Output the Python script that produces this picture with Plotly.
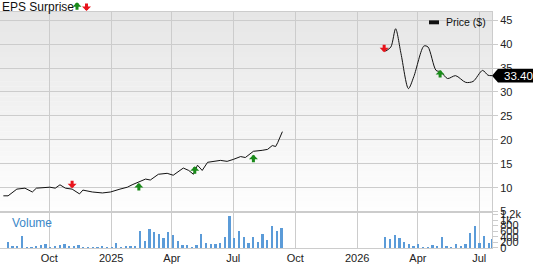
import plotly.graph_objects as go
import pandas as pd

# ---------------- data ----------------
price1_dates = ["2024-07-25","2024-08-01","2024-08-14","2024-08-26","2024-09-06","2024-09-12",
                "2024-10-02","2024-10-10","2024-10-17","2024-10-25","2024-11-04","2024-11-15",
                "2024-11-20","2024-12-04","2024-12-19","2024-12-31","2025-01-14","2025-01-25",
                "2025-02-01","2025-02-10","2025-02-21","2025-02-28","2025-03-12","2025-03-25",
                "2025-04-03","2025-04-18","2025-04-26","2025-05-03","2025-05-09","2025-05-16",
                "2025-05-24","2025-06-12","2025-06-22","2025-07-01","2025-07-12","2025-07-19",
                "2025-07-24","2025-07-31","2025-08-13","2025-08-21","2025-08-28","2025-09-02",
                "2025-09-05","2025-09-12"]
price1 = [8.3,8.3,9.7,9.9,9.1,9.9,10.1,9.9,10.6,9.9,9.7,8.7,9.5,9.1,8.9,9.1,9.7,10.1,
          10.6,11.2,11.8,11.6,12.8,13.0,12.6,14.1,13.6,12.8,14.7,13.6,15.3,15.7,15.5,15.9,
          16.5,16.3,16.9,17.6,17.8,18.0,18.8,18.6,19.4,21.7]

price2_dates = ["2026-02-12","2026-02-20","2026-02-27","2026-03-07","2026-03-18","2026-03-26",
                "2026-04-10","2026-04-16","2026-04-28","2026-05-05","2026-05-15","2026-05-27",
                "2026-06-11","2026-06-22","2026-07-06","2026-07-14","2026-07-20"]
price2 = [38.5,39.4,43.2,38.0,30.7,33.2,39.6,39.4,34.5,34.2,32.8,33.4,32.0,32.2,34.5,33.5,33.4]

vol1_start = "2024-08-01"
vol1 = [212,94,94,435,35,35,82,118,141,35,94,130,141,94,94,118,35,24,35,59,82,35,47,200,59,
        94,94,82,612,259,683,577,518,377,589,471,271,118,118,59,118,530,200,141,141,188,412,
        1154,365,624,412,177,412,224,518,306,813,624,742]
vol2_start = "2026-02-12"
vol2 = [412,330,471,389,212,153,82,153,59,59,118,82,412,82,59,141,94,141,565,800,177,459,177]
vol2_last_date = "2026-07-20"
vol2_last = 353

eps_dates = ["2024-11-04","2025-02-11","2025-05-05","2025-07-31","2026-02-10","2026-05-04"]
eps_prices = [9.9,11.0,14.5,16.9,38.3,34.6]
eps_beat = [False,True,True,True,False,True]

x_tickvals = ["2024-10-01","2025-01-01","2025-04-01","2025-07-01","2025-10-01",
              "2026-01-01","2026-04-01","2026-07-01"]
x_ticktext = ["Oct","2025","Apr","Jul","Oct","2026","Apr","Jul"]
price_ticks = [5,10,15,20,25,30,35,40,45]
vol_ticks = [0,200,400,600,800,1000,1200]
vol_ticktext = ["0","200","400","600","800","1k","1.2k"]
last_price = 33.40

# ---------------- figure ----------------
FONT = "Liberation Sans, Arial, sans-serif"
GRID = "#cccccc"
GREEN = "#1a8a1a"
RED = "#e8141c"

vol1_dates = list(pd.date_range(vol1_start, periods=len(vol1), freq="7D"))
vol2_dates = list(pd.date_range(vol2_start, periods=len(vol2), freq="7D")) + [pd.Timestamp(vol2_last_date)]
vol2_all = vol2 + [vol2_last]

fig = go.Figure()
fig.add_trace(go.Scatter(x=price1_dates, y=price1, mode="lines", line=dict(color="#111", width=1),
                         xaxis="x", yaxis="y", showlegend=False, hoverinfo="skip"))
fig.add_trace(go.Scatter(x=price2_dates, y=price2, mode="lines",
                         line=dict(color="#111", width=1, shape="spline", smoothing=0.8),
                         xaxis="x", yaxis="y", showlegend=False, hoverinfo="skip"))
bar_w = 2.6 * 86400000
fig.add_trace(go.Bar(x=vol1_dates + vol2_dates, y=vol1 + vol2_all, width=bar_w,
                     marker=dict(color="#5b9bd8", line=dict(width=0)),
                     xaxis="x2", yaxis="y2", showlegend=False, hoverinfo="skip"))

shapes = []
# gradient background for price pane
dom_lo = 37 / 240
n = 40
for i in range(n):
    y0 = dom_lo + (1 - dom_lo) * i / n
    y1 = dom_lo + (1 - dom_lo) * (i + 1) / n
    t = (i + 0.5) / n  # 0 bottom -> 1 top
    c = int(round(254 - t * 24))
    shapes.append(dict(type="rect", xref="paper", yref="paper", x0=0, x1=1, y0=y0, y1=y1,
                       fillcolor=f"rgb({c},{c},{c})", line=dict(width=0), layer="below"))

# legend swatch
shapes.append(dict(type="rect", xref="paper", yref="paper", x0=429/492, x1=439/492,
                   y0=(252-24.5)/240, y1=(252-20.5)/240, fillcolor="#111", line=dict(width=0)))

# last price tag
h = 7 / 4.86
shapes.append(dict(type="path", xref="paper", yref="y", layer="above",
                   path=f"M 1,{last_price} L {498/492},{last_price+h} L {534/492},{last_price+h} "
                        f"L {534/492},{last_price-h} L {498/492},{last_price-h} Z",
                   fillcolor="#000", line=dict(width=0)))

annotations = [
    dict(text="EPS Surprise", xref="paper", yref="paper", x=0, y=(252-6.5)/240, xanchor="left",
         yanchor="middle", showarrow=False, font=dict(family=FONT, size=12, color="#111")),
    dict(text="Volume", xref="paper", yref="paper", x=10/492, y=(252-226.5)/240, xanchor="left",
         yanchor="middle", showarrow=False, font=dict(family=FONT, size=12, color="#3a87c8")),
    dict(text="Price ($)", xref="paper", yref="paper", x=444/492, y=(252-22.5)/240, xanchor="left",
         yanchor="middle", showarrow=False, font=dict(family=FONT, size=10.5, color="#111")),
    dict(text="%.2f" % last_price, xref="paper", yref="y", x=502/492, y=last_price, xanchor="left",
         yanchor="middle", showarrow=False, font=dict(family=FONT, size=11.5, color="#fff")),
]

def arrow(x, y, up, xref="x", yref="y"):
    return dict(x=x, y=y, xref=xref, yref=yref, text="", showarrow=True,
                ax=0, ay=(9 if up else -9), axref="pixel", ayref="pixel",
                arrowhead=1, arrowsize=0.5, arrowwidth=3,
                arrowcolor=(GREEN if up else RED), standoff=0, startstandoff=0)

for d, p, b in zip(eps_dates, eps_prices, eps_beat):
    annotations.append(arrow(d, p, b))
annotations.append(arrow(77/492, (252-2)/240, True, "paper", "paper"))
annotations.append(arrow(86.5/492, (252-11)/240, False, "paper", "paper"))

x_range = ["2024-07-20", "2026-07-20"]
tickfont = dict(family=FONT, size=11, color="#222")

fig.update_layout(
    width=533, height=264, margin=dict(l=0, r=41, t=12, b=12),
    paper_bgcolor="#ffffff", plot_bgcolor="rgba(0,0,0,0)",
    shapes=shapes, annotations=annotations, bargap=0,
    xaxis=dict(domain=[0, 1], anchor="y", range=x_range, type="date",
               tickvals=x_tickvals, ticktext=x_ticktext, showticklabels=False,
               showgrid=True, gridcolor=GRID, gridwidth=1, showline=True, mirror=True,
               linecolor=GRID, ticks="", zeroline=False),
    xaxis2=dict(domain=[0, 1], anchor="y2", range=x_range, type="date", matches="x",
                tickvals=x_tickvals, ticktext=x_ticktext, tickfont=tickfont,
                showgrid=True, gridcolor=GRID, gridwidth=1, showline=True, mirror=True,
                linecolor=GRID, ticks="", zeroline=False),
    yaxis=dict(domain=[dom_lo, 1], anchor="x", range=[5, 46.7], side="right",
               tickvals=price_ticks, tickfont=tickfont, showgrid=True, gridcolor=GRID,
               showline=True, linecolor=GRID, ticks="outside", ticklen=5, tickcolor=GRID,
               zeroline=False),
    yaxis2=dict(domain=[0, dom_lo], anchor="x2", range=[0, 1300], side="right",
                tickvals=vol_ticks, ticktext=vol_ticktext, tickfont=tickfont, showgrid=False,
                showline=True, linecolor=GRID, ticks="outside", ticklen=5, tickcolor=GRID,
                zeroline=False),
)

fig.write_html("out.html")
